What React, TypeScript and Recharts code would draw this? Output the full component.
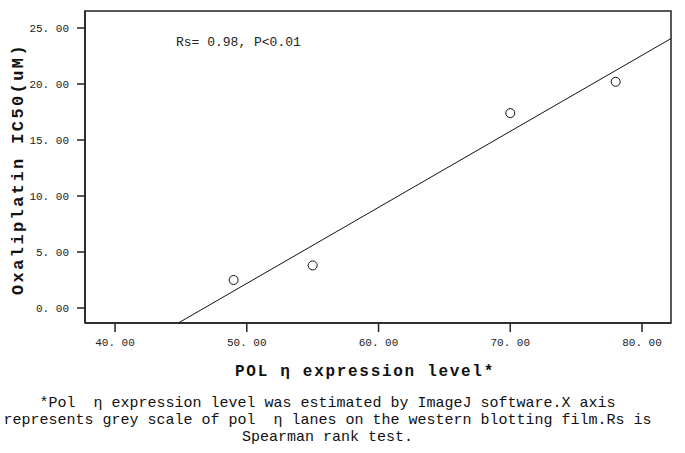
import { ScatterChart, Scatter, XAxis, YAxis, ReferenceLine, ReferenceArea, Label } from "recharts";

// POL eta expression level (grey scale) vs oxaliplatin IC50
const polEta = [49, 55, 70, 78];
const ic50 = [2.5, 3.8, 17.4, 20.2];
const xTicks = [40, 50, 60, 70, 80];
const yTicks = [0, 5, 10, 15, 20, 25];
// fitted line end points
const fitLine = [
  { x: 44.8, y: -1.34 },
  { x: 82.2, y: 24.06 },
];

const points = polEta.map((x, i) => ({ x, y: ic50[i] }));

const tickFont = { fontFamily: "Liberation Mono", fontSize: 11, fill: "#222" };
const fmt = (v: number) => v.toFixed(2).replace(".", ". ");

const OpenCircle = (props: any) => (
  <circle cx={props.cx} cy={props.cy} r={4.5} fill="#fff" stroke="#111" strokeWidth={1} />
);

export default function App() {
  return (
    <div style={{ position: "absolute", left: 0, top: 0, width: 685, height: 453, background: "#fff" }}>
      <ScatterChart width={685} height={390} margin={{ top: 11, right: 14, left: 0, bottom: 0 }}>
        <XAxis
          type="number"
          dataKey="x"
          domain={[37.72, 82.2]}
          allowDataOverflow
          ticks={xTicks}
          tickFormatter={fmt}
          tick={tickFont}
          tickSize={9}
          tickMargin={6}
          height={67}
          stroke="#222"
          strokeWidth={1.5}
        >
          <Label
            value="POL η expression level*"
            position="insideBottom"
            offset={14}
            dx={-13}
            style={{ fontFamily: "Liberation Mono", fontWeight: "bold", fontSize: 16, letterSpacing: 1.7, fill: "#111" }}
          />
        </XAxis>
        <YAxis
          type="number"
          dataKey="y"
          domain={[-1.34, 26.52]}
          allowDataOverflow
          ticks={yTicks}
          tickFormatter={fmt}
          tick={tickFont}
          tickSize={8}
          tickMargin={8}
          width={85}
          stroke="#222"
          strokeWidth={1.5}
        >
          <Label
            value="Oxaliplatin IC50(uM)"
            angle={-90}
            position="insideLeft"
            offset={17}
            dy={2}
            style={{ textAnchor: "middle", fontFamily: "Liberation Mono", fontWeight: "bold", fontSize: 17, letterSpacing: 2.4, fill: "#111" }}
          />
        </YAxis>
        <ReferenceArea
          x1={37.72}
          x2={82.2}
          y1={-1.34}
          y2={26.52}
          fill="none"
          stroke="#222"
          strokeWidth={1.5}
          ifOverflow="visible"
        />
        <ReferenceLine segment={fitLine} stroke="#111" strokeWidth={1} ifOverflow="visible" />
        <Scatter data={points} shape={OpenCircle} isAnimationActive={false} />
      </ScatterChart>
      <div
        style={{
          position: "absolute",
          left: 176,
          top: 35,
          fontFamily: "Liberation Mono",
          fontSize: 13,
          color: "#222",
        }}
      >
        Rs= 0.98, P&lt;0.01
      </div>
      <div
        style={{
          position: "absolute",
          left: 0,
          top: 395,
          width: 655,
          textAlign: "center",
          fontFamily: "Liberation Mono",
          fontSize: 15,
          lineHeight: "17px",
          color: "#111",
          whiteSpace: "pre",
        }}
      >
        {"*Pol  η expression level was estimated by ImageJ software.X axis\nrepresents grey scale of pol  η lanes on the western blotting film.Rs is\nSpearman rank test."}
      </div>
    </div>
  );
}
